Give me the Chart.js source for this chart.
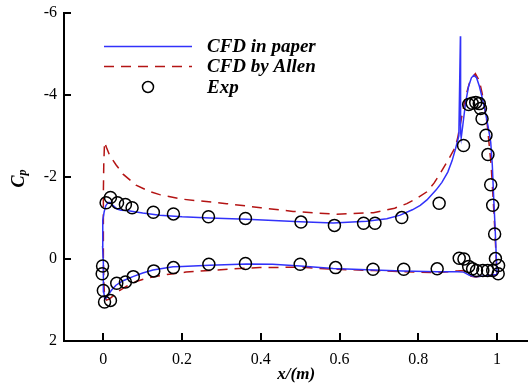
<!DOCTYPE html>
<html lang="en">
<head>
<meta charset="UTF-8"/>
<title>Cp</title>
<style>
  html, body { margin: 0; padding: 0; background: #fff; overflow: hidden; }
  #wrap { width: 536px; height: 387px; margin-top: -2px; }
</style>
</head>
<body>
<div id="wrap"><canvas id="myChart"></canvas></div>
<script src="https://cdn.jsdelivr.net/npm/chart.js"></script>
<script>
// tick positions
const xTicks = [0, 0.2, 0.4, 0.6, 0.8, 1];
const yTicks = [-6, -4, -2, 0, 2];

// CFD in paper (lower surface TE -> LE, then upper surface LE -> TE)
const paperX = [1.0, 0.98, 0.96, 0.945, 0.93, 0.915, 0.9, 0.848, 0.76, 0.686, 0.584, 0.5, 0.43, 0.364, 0.27, 0.2, 0.177, 0.126, 0.1, 0.075, 0.05, 0.032, 0.02, 0.012, 0.006, 0.003,
  0.001, 0.0, 0.0, -0.002, -0.002, -0.001, 0.002, 0.006, 0.012, 0.018, 0.025, 0.035, 0.045, 0.06, 0.075, 0.1, 0.143, 0.2, 0.27, 0.364, 0.5, 0.584, 0.669, 0.72, 0.754, 0.785, 0.805, 0.822, 0.845, 0.86, 0.875, 0.886, 0.895, 0.903,
  0.907, 0.9075, 0.909, 0.913, 0.92, 0.928, 0.935, 0.941, 0.948, 0.955, 0.962, 0.97, 0.978, 0.984, 0.988, 0.992, 0.995, 0.998, 1.0];
const paperCp = [0.38, 0.40, 0.42, 0.43, 0.40, 0.32, 0.31, 0.31, 0.29, 0.27, 0.23, 0.17, 0.13, 0.12, 0.15, 0.18, 0.19, 0.27, 0.34, 0.43, 0.53, 0.64, 0.77, 0.88, 0.97, 0.95,
  0.8, 0.5, 0.1, -0.3, -0.7, -0.95, -1.15, -1.3, -1.38, -1.38, -1.3, -1.22, -1.19, -1.18, -1.16, -1.12, -1.07, -1.03, -1.0, -0.97, -0.91, -0.88, -0.92, -0.98, -1.07, -1.2, -1.31, -1.44, -1.68, -1.87, -2.12, -2.4, -2.7, -3.0,
  -5.43, -3.1, -2.95, -3.25, -3.8, -4.22, -4.42, -4.48, -4.42, -4.22, -3.95, -3.6, -3.2, -2.85, -2.3, -1.4, -0.8, -0.1, 0.38];

// CFD by Allen
const allenX = [1.0, 0.98, 0.96, 0.945, 0.93, 0.915, 0.9, 0.848, 0.76, 0.686, 0.584, 0.5, 0.397, 0.33, 0.27, 0.21, 0.168, 0.143, 0.109, 0.083, 0.058, 0.04, 0.025, 0.015, 0.008, 0.003,
  0.001, 0.0, 0.0, 0.0, 0.001, 0.003, 0.008, 0.015, 0.022, 0.032, 0.05, 0.083, 0.117, 0.143, 0.2, 0.313, 0.4, 0.482, 0.593, 0.686, 0.74, 0.771, 0.8, 0.822, 0.84, 0.856, 0.878, 0.894, 0.9, 0.905,
  0.912, 0.92, 0.932, 0.945, 0.955, 0.962, 0.97, 0.975, 0.979, 0.985, 0.99, 0.994, 0.997, 1.0];
const allenCp = [0.38, 0.40, 0.42, 0.44, 0.41, 0.28, 0.29, 0.33, 0.31, 0.28, 0.25, 0.2, 0.21, 0.24, 0.28, 0.32, 0.37, 0.41, 0.47, 0.55, 0.67, 0.78, 0.9, 0.98, 1.0, 0.9,
  0.5, 0.0, -0.8, -1.6, -2.3, -2.85, -2.72, -2.55, -2.44, -2.3, -2.07, -1.8, -1.65, -1.57, -1.46, -1.35, -1.25, -1.16, -1.09, -1.13, -1.24, -1.35, -1.5, -1.64, -1.85, -2.09, -2.45, -2.73, -2.95, -3.2,
  -3.55, -3.95, -4.36, -4.52, -4.35, -4.05, -3.6, -3.3, -2.9, -2.3, -1.5, -0.8, -0.2, 0.38];

// experiment
const expX = [0.007, 0.018, 0.036, 0.056, 0.073, 0.127, 0.178, 0.267, 0.361, 0.502, 0.587, 0.661, 0.690, 0.758, 0.853, 0.915, 0.928, 0.937, 0.946, 0.955, 0.958, 0.962, 0.972, 0.977, 0.984, 0.989, 0.994, 0.996,
  -0.002, -0.003, 0.0, 0.003, 0.018, 0.034, 0.056, 0.076, 0.128, 0.178, 0.268, 0.361, 0.500, 0.590, 0.685, 0.763, 0.848, 0.904, 0.916, 0.928, 0.938, 0.948, 0.964, 0.976, 0.989, 1.004, 1.003];
const expCp = [-1.37, -1.50, -1.37, -1.33, -1.25, -1.14, -1.10, -1.03, -0.99, -0.90, -0.82, -0.87, -0.87, -1.01, -1.36, -2.77, -3.77, -3.80, -3.82, -3.79, -3.67, -3.42, -3.02, -2.55, -1.81, -1.31, -0.61, -0.01,
  0.17, 0.36, 0.77, 1.05, 1.01, 0.59, 0.56, 0.43, 0.29, 0.21, 0.13, 0.11, 0.13, 0.21, 0.25, 0.25, 0.24, -0.02, 0.0, 0.18, 0.24, 0.28, 0.28, 0.28, 0.28, 0.16, 0.36];

const pts = (xs, ys) => xs.map((x, i) => ({ x: x, y: ys[i] }));
const serif = '"Liberation Serif", "Times New Roman", serif';

const data = {
  datasets: [{
    label: 'Exp',
    data: pts(expX, expCp),
    showLine: false,
    pointStyle: 'circle',
    pointRadius: 6,
    pointBorderWidth: 1.5,
    borderColor: '#000',
    backgroundColor: 'rgba(0,0,0,0)',
    order: 0
  }, {
    label: 'CFD in paper',
    data: pts(paperX, paperCp),
    showLine: true,
    pointRadius: 0,
    borderColor: 'rgb(50, 50, 250)',
    borderWidth: 1.5,
    order: 1
  }, {
    label: 'CFD by Allen',
    data: pts(allenX, allenCp),
    showLine: true,
    pointRadius: 0,
    borderColor: 'rgb(180, 20, 20)',
    borderWidth: 1.5,
    borderDash: [10, 7],
    order: 2
  }]
};

// legend, inward ticks and y title (with subscript) drawn on top
const overlay = {
  id: 'overlay',
  afterDraw(chart) {
    const ctx = chart.ctx;
    const area = chart.chartArea;
    ctx.save();
    // inward tick marks
    ctx.strokeStyle = '#000';
    ctx.lineWidth = 2;
    ctx.beginPath();
    chart.scales.x.ticks.forEach(t => {
      const px = Math.round(chart.scales.x.getPixelForValue(t.value));
      ctx.moveTo(px, area.bottom);
      ctx.lineTo(px, area.bottom - 8);
    });
    chart.scales.y.ticks.forEach(t => {
      const py = Math.round(chart.scales.y.getPixelForValue(t.value));
      ctx.moveTo(area.left, py);
      ctx.lineTo(area.left + 7, py);
    });
    ctx.stroke();

    // legend box inside the plot, top-left
    const byLabel = {};
    chart.data.datasets.forEach(ds => byLabel[ds.label] = ds);
    const rows = ['CFD in paper', 'CFD by Allen', 'Exp'];
    const rowDy = [33.5, 53.5, 74];
    const lx = area.left + 40;
    rows.forEach((name, i) => {
      const ds = byLabel[name];
      const y = area.top + rowDy[i];
      ctx.strokeStyle = ds.borderColor;
      ctx.lineWidth = 1.5;
      if (ds.showLine) {
        ctx.setLineDash(ds.borderDash || []);
        ctx.beginPath();
        ctx.moveTo(lx, y);
        ctx.lineTo(lx + 88, y);
        ctx.stroke();
        ctx.setLineDash([]);
      } else {
        ctx.beginPath();
        ctx.arc(lx + 44, y, 5.5, 0, Math.PI * 2);
        ctx.stroke();
      }
      ctx.fillStyle = '#000';
      ctx.font = 'italic bold 19px ' + serif;
      ctx.textBaseline = 'middle';
      ctx.textAlign = 'left';
      ctx.fillText(name, lx + 103, y + 1);
    });
    // y axis title C_p
    ctx.translate(18, (area.top + area.bottom) / 2 + 1);
    ctx.rotate(-Math.PI / 2);
    ctx.textBaseline = 'alphabetic';
    ctx.font = 'italic bold 18px ' + serif;
    const cw = ctx.measureText('C').width;
    ctx.fillText('C', -9.5, 6);
    ctx.font = 'italic bold 12px ' + serif;
    ctx.fillText('p', -9.5 + cw, 8);
    ctx.restore();
  }
};

const config = {
  type: 'scatter',
  data,
  options: {
    responsive: true,
    maintainAspectRatio: false,
    animation: false,
    layout: { padding: { top: 9, left: 0, right: 0, bottom: 0 } },
    plugins: { legend: { display: false }, tooltip: { enabled: false } },
    scales: {
      x: {
        type: 'linear',
        min: -0.1,
        max: 1.08,
        afterBuildTicks: (s) => { s.ticks = xTicks.map(v => ({ value: v })); },
        afterFit: (s) => { s.height = 44; },
        border: { color: '#000', width: 2 },
        grid: { drawOnChartArea: false, drawTicks: false },
        ticks: { color: '#000', padding: 9, maxRotation: 0, callback: v => String(v), font: { family: serif, size: 16 } },
        title: { display: true, text: 'x/(m)', color: '#000', padding: { top: 0, bottom: 0 }, font: { family: serif, size: 17, style: 'italic', weight: 'bold' } }
      },
      y: {
        type: 'linear',
        reverse: true,
        min: -6,
        max: 2,
        afterBuildTicks: (s) => { s.ticks = yTicks.map(v => ({ value: v })); },
        afterFit: (s) => { s.width = 64; },
        border: { color: '#000', width: 2 },
        grid: { drawOnChartArea: false, drawTicks: false },
        ticks: { color: '#000', padding: 7, callback: v => String(v), font: { family: serif, size: 16, lineHeight: 1 } }
      }
    }
  },
  plugins: [overlay]
};

const myChart = new Chart(document.getElementById('myChart'), config);
</script>
</body>
</html>
